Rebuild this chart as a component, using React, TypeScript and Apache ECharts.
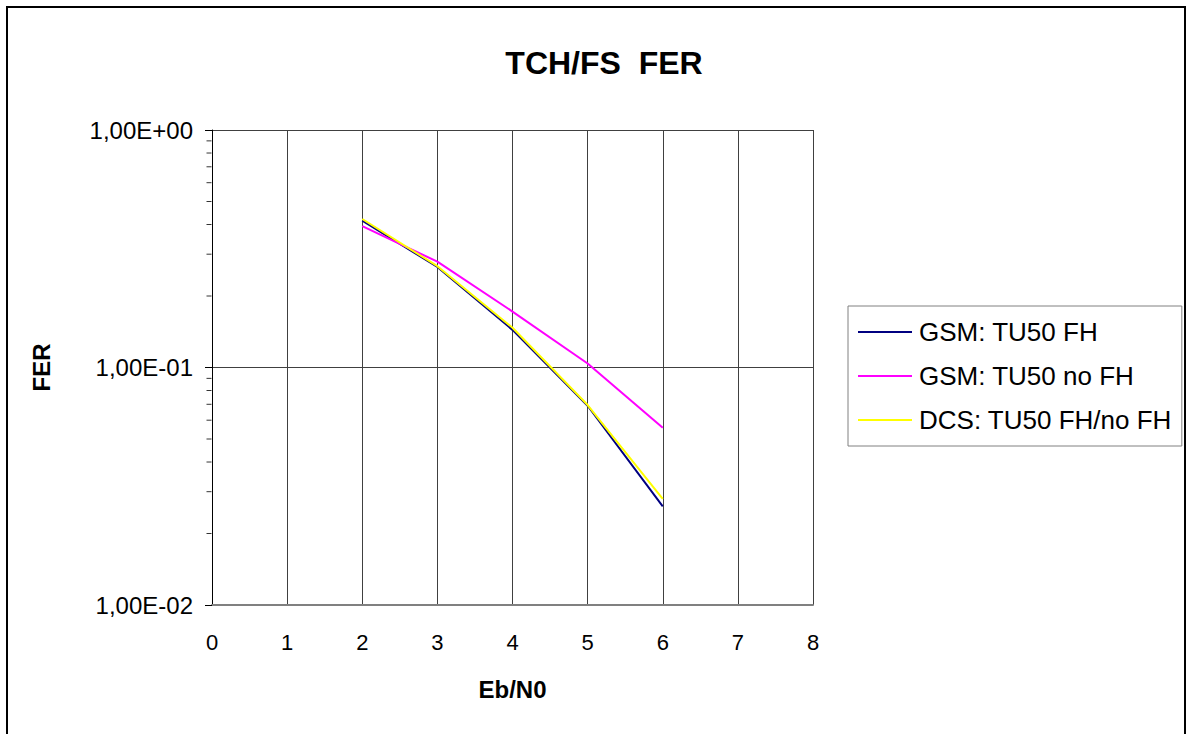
import React, { useEffect, useRef } from "react";
import * as echarts from "echarts";

const ebN0 = [2, 3, 4, 5, 6];
const gsmFH = [0.415, 0.265, 0.144, 0.069, 0.026];
const gsmNoFH = [0.394, 0.279, 0.172, 0.104, 0.0558];
const dcsFH = [0.422, 0.267, 0.147, 0.0695, 0.028];
const seriesNames = ["GSM: TU50 FH", "GSM: TU50 no FH", "DCS: TU50 FH/no FH"];
const xTicks = [0, 8, 1]; // min, max, interval
const yRange = [0.01, 1];
const minorTickValues = [0.02, 0.03, 0.04, 0.05, 0.06, 0.07, 0.08, 0.09, 0.2, 0.3, 0.4, 0.5, 0.6, 0.7, 0.8, 0.9];

const FONT = "'Liberation Sans', Arial, sans-serif";

function formatExp(v: number): string {
  const e = Math.round(Math.log10(v));
  const sign = e < 0 ? "-" : "+";
  const abs = Math.abs(e);
  return "1,00E" + sign + (abs < 10 ? "0" + abs : String(abs));
}

export default function App() {
  const ref = useRef<HTMLDivElement>(null);
  useEffect(() => {
    if (!ref.current) return;
    const chart = echarts.init(ref.current, undefined, { renderer: "svg" });
    const pair = (ys: number[]) => ebN0.map((x, i) => [x, ys[i]]);
    chart.setOption({
      animation: false,
      backgroundColor: "#ffffff",
      textStyle: { fontFamily: FONT },
      title: {
        text: "TCH/FS  FER",
        left: 599,
        top: 42,
        textAlign: "center",
        textStyle: { fontFamily: FONT, fontSize: 32, fontWeight: "bold", color: "#000" },
      },
      graphic: [
        {
          type: "rect",
          shape: { x: 7, y: 7, width: 1178, height: 740 },
          style: { fill: "none", stroke: "#000", lineWidth: 2 },
          silent: true,
          z: 0,
        },
      ],
      legend: {
        data: seriesNames,
        orient: "vertical",
        left: 848,
        top: 306,
        padding: [13, 10, 13, 10],
        itemGap: 18,
        itemWidth: 54,
        itemHeight: 2,
        icon: "rect",
        backgroundColor: "#fff",
        borderColor: "#808080",
        borderWidth: 1,
        textStyle: { fontFamily: FONT, fontSize: 26, lineHeight: 24, color: "#000", padding: [0, 0, 0, 2] },
      },
      grid: { left: 212, top: 130, width: 601, height: 475, containLabel: false },
      xAxis: {
        type: "value",
        min: xTicks[0],
        max: xTicks[1],
        interval: xTicks[2],
        name: "Eb/N0",
        nameLocation: "middle",
        nameGap: 72,
        nameTextStyle: { fontFamily: FONT, fontSize: 24, fontWeight: "bold", color: "#000" },
        axisLine: { show: true, lineStyle: { color: "#808080", width: 2 } },
        axisTick: { show: false },
        axisLabel: { fontFamily: FONT, fontSize: 22, color: "#000", margin: 26 },
        splitLine: { show: true, lineStyle: { color: "#404040", width: 1 } },
      },
      yAxis: {
        type: "log",
        logBase: 10,
        min: yRange[0],
        max: yRange[1],
        name: "FER",
        nameLocation: "middle",
        nameGap: 159,
        nameTextStyle: { fontFamily: FONT, fontSize: 24, fontWeight: "bold", color: "#000" },
        axisLine: { show: true, lineStyle: { color: "#000", width: 1 } },
        axisTick: { show: true, length: 7, lineStyle: { color: "#000" } },
        axisLabel: { fontFamily: FONT, fontSize: 24, color: "#000", margin: 19, formatter: (v: number) => formatExp(v) },
        splitLine: { show: true, lineStyle: { color: "#404040", width: 1 } },
      },
      series: [
        {
          name: "minorTicks",
          type: "scatter",
          data: minorTickValues.map((v) => [0, v]),
          symbol: "rect",
          symbolSize: [5, 1],
          symbolOffset: [-3, 0],
          itemStyle: { color: "#000" },
          silent: true,
          clip: false,
          z: 1,
        },
        {
          name: seriesNames[0],
          type: "line",
          data: pair(gsmFH),
          showSymbol: false,
          symbol: "none",
          lineStyle: { color: "#000080", width: 2 },
          itemStyle: { color: "#000080" },
          z: 2,
        },
        {
          name: seriesNames[1],
          type: "line",
          data: pair(gsmNoFH),
          showSymbol: false,
          symbol: "none",
          lineStyle: { color: "#ff00ff", width: 2 },
          itemStyle: { color: "#ff00ff" },
          z: 3,
        },
        {
          name: seriesNames[2],
          type: "line",
          data: pair(dcsFH),
          showSymbol: false,
          symbol: "none",
          lineStyle: { color: "#ffff00", width: 2 },
          itemStyle: { color: "#ffff00" },
          z: 4,
        },
      ],
    });
    return () => chart.dispose();
  }, []);
  return (
    <div
      ref={ref}
      style={{ position: "fixed", left: 0, top: 0, width: 1192, height: 734 }}
    />
  );
}
